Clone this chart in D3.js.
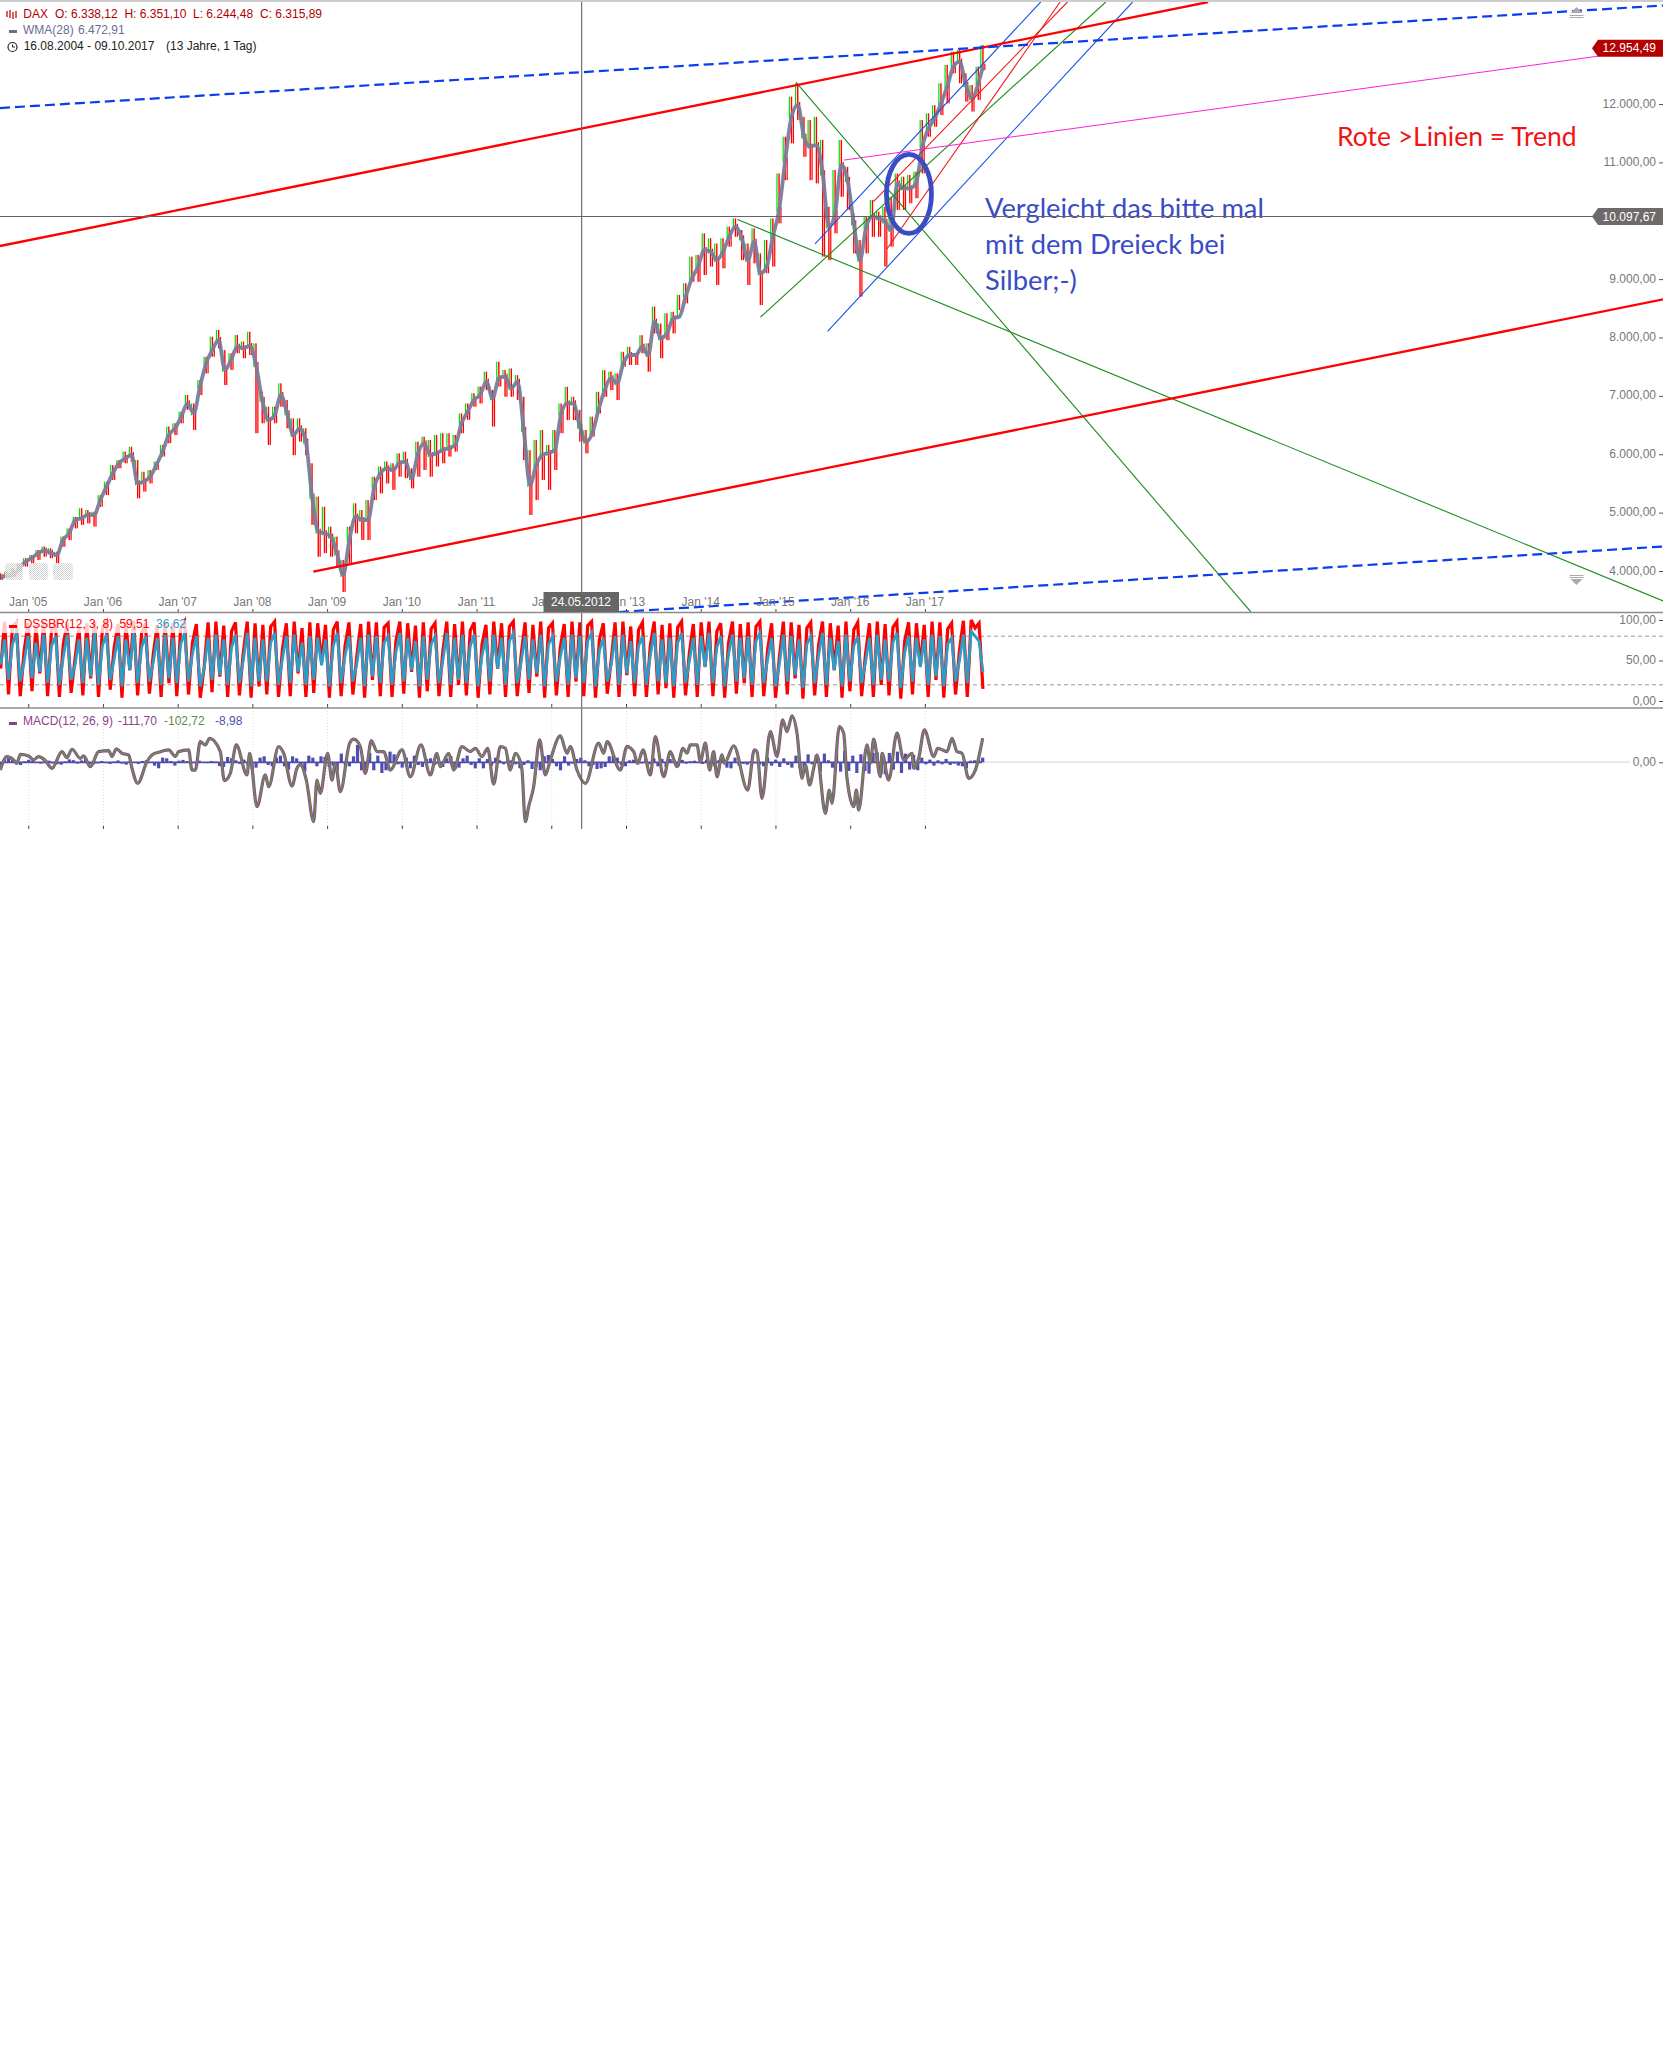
<!DOCTYPE html>
<html><head><meta charset="utf-8">
<script src="https://cdn.jsdelivr.net/npm/d3@7"></script>
<style>html,body{margin:0;padding:0;background:#fff}svg{display:block}text{font-family:"Liberation Sans",Arial,sans-serif;font-size:12px}</style>
</head><body><div id="chart"></div>
<script>
// ---- data ----
const startYear = 2004.625, lastYear = 2017.77;
const wmaValues = [3892,3915,3932,4046,4160,4223,4303,4349,4314,4274,4531,4646,4874,4903,4960,4960,5217,5445,5673,5845,5930,5987,5502,5531,5616,5816,6045,6330,6444,6644,6872,6701,7158,7558,7786,7957,7444,7615,7843,7815,7855,7529,6930,6587,6673,7015,6701,6330,6444,6216,5274,4674,4646,4589,4303,3932,4531,4931,4874,4874,5445,5673,5759,5730,5845,5873,5588,6016,6187,5987,6016,6073,6102,6159,6530,6730,6930,7015,7244,6958,7301,7329,7129,7243,6415,5473,5816,5987,6021,6072,6701,6872,6872,6472,6215,6358,6758,7100,7300,7215,7557,7700,7700,7843,7700,8271,7985,8071,8328,8356,8699,9013,9213,9498,9470,9327,9470,9727,9898,9698,9327,9641,9099,9213,9727,10184,11040,11783,11983,11440,11269,11297,10812,9898,10127,10955,10698,9955,9327,9898,10070,10041,9984,9841,10641,10555,10555,10641,11269,11583,11754,12011,12297,12639,12725,12325,12097,12354,12640];
const highValues = [3960,3990,4050,4130,4220,4275,4360,4420,4390,4330,4590,4730,4930,5075,5045,5015,5300,5530,5815,5900,6045,6130,5900,5700,5730,5875,6160,6475,6530,6730,7015,6870,7270,7670,8015,8130,7785,7730,8045,7930,8100,7900,7070,6815,6815,7215,6930,6615,6615,6445,5845,5275,5100,4760,4590,4190,4760,5160,5045,5215,5615,5790,5875,5845,6015,6045,5760,6215,6300,6245,6330,6360,6360,6330,6700,6870,7045,7160,7415,7100,7585,7445,7470,7355,6985,6070,6245,6415,6160,6415,6870,7155,6985,6760,6415,6645,7070,7440,7415,7385,7755,7840,7730,8040,7900,8530,8240,8415,8440,8730,8930,9385,9415,9785,9700,9610,9700,9900,10040,9840,9610,9870,9440,9670,10040,10810,11440,12125,12355,11780,11725,11780,11385,10240,10870,11385,10925,10125,9670,10070,10355,10155,10240,10410,10810,10755,10785,10840,11725,11840,11980,12355,12670,12895,12925,12525,12325,12640,13010];
const lowValues = [3850,3875,3900,3990,4075,4130,4190,4245,4220,4130,4415,4530,4730,4790,4815,4760,5100,5300,5560,5760,5845,5875,5245,5360,5500,5730,5960,6190,6330,6530,6760,6415,7015,7385,7670,7815,7185,7445,7730,7645,7700,6360,6530,6160,6530,6815,6445,5985,6215,5985,4790,4245,4305,4245,4075,3640,4130,4645,4530,4530,5215,5330,5500,5390,5615,5590,5415,5615,5730,5615,5790,5845,5960,6045,6360,6590,6815,6870,7100,6475,7160,6985,6985,6930,5900,4960,5215,5560,5390,5730,6360,6585,6585,6215,6015,6300,6700,6985,7100,6930,7500,7530,7530,7730,7415,8070,7645,7955,8070,8470,8585,8955,8955,9070,9215,8900,9185,9555,9725,9325,8900,9270,8555,9100,9215,9955,10695,11325,11725,11095,10695,10640,9385,9325,9785,10410,10185,9440,8700,9440,9725,9725,9215,9555,10185,10185,10300,10385,10810,11440,11610,11810,12010,12525,12355,12040,11870,12070,12580];
const dssRed = [40,98,8,92,97,6,62,96,12,94,34,98,6,88,95,5,70,97,10,52,92,7,96,28,98,5,90,97,14,66,95,4,97,38,99,7,84,96,9,58,94,5,98,22,96,6,90,98,8,72,95,4,42,97,11,98,30,93,5,86,97,7,60,98,4,96,18,94,8,92,98,5,64,96,6,98,34,90,5,97,10,96,48,94,4,88,98,6,68,97,8,55,95,4,98,26,97,6,91,96,5,74,98,9,96,36,93,4,97,12,89,96,6,62,98,5,95,20,98,7,87,97,4,70,94,8,98,40,96,5,92,98,6,57,97,10,94,30,98,4,90,96,7,66,95,5,98,24,97,6,93,98,4,76,96,9,50,97,5,98,32,92,6,88,97,5,68,98,8,94,16,96,4,91,98,7,60,95,5,97,42,98,6,86,96,4,72,98,9,95,22,97,5,92,98,6,64,96,4,55,98,8,97,28,94,3,90,97,7,69,98,5,96,38,93,4,98,12,88,97,6,58,96,5,98,20,95,7,91,98,3,74,97,8,96,44,94,5,98,26,97,4,89,96,8,62,99,5,100,90,96,15];
const dssBlue = [45,76,26,70,84,24,48,80,28,72,36,82,22,68,80,20,54,82,26,44,76,22,78,30,84,20,68,82,26,52,80,18,76,38,86,22,66,80,24,48,78,20,82,28,78,22,70,84,24,58,80,18,40,78,26,82,32,76,20,66,82,22,50,84,18,78,24,76,24,72,84,20,52,80,22,82,36,72,20,80,26,78,44,76,18,68,84,22,56,80,24,46,78,18,82,30,80,22,72,80,20,60,84,24,78,38,74,18,80,26,70,80,22,50,84,20,78,26,82,22,68,82,18,56,78,24,82,40,78,20,74,84,22,48,80,26,76,34,82,18,70,80,24,54,78,20,82,28,80,22,74,84,18,62,78,24,44,80,20,82,34,74,22,68,80,20,56,84,24,76,22,78,18,72,84,22,50,78,20,80,42,84,22,66,80,18,58,82,24,78,28,80,20,74,84,22,52,78,18,46,82,24,80,32,76,16,70,80,22,56,84,20,78,38,74,18,82,24,68,80,22,48,78,20,82,26,76,24,72,84,16,60,80,24,78,42,76,20,82,30,80,18,70,78,24,50,82,22,86,80,74,36];
const macdSession = [0,20,40,50,60,85,100,115,135,155,185,200,215,240,250,270,295,325,335,348,365,385,395,412,440,455,475,505,525,535,565,575,585,600,615,628,660,672,690,708,740,748,770,795,805,835,850,875,890,900,918,940,950,960,982,995,1005,1020,1048,1060,1080,1095,1113,1130,1150,1170,1205,1230,1262,1290,1310,1320,1345,1360,1385,1410,1425,1445,1462,1480,1500,1515,1530,1545,1560,1565,1575,1585,1600,1618,1635,1650,1680,1700,1710,1730,1755,1795,1810,1820,1860,1880,1900,1912,1928,1950,1965,1990,2010,2030,2048,2060,2070,2090,2100,2115,2128,2140,2150,2165,2172,2200,2242,2262,2270,2285,2310,2330,2347,2360,2375,2390,2405,2415,2428,2440,2450,2475,2487,2495,2517,2530,2540,2560,2568,2575,2600,2610,2620,2640,2645,2665,2690,2710,2735,2740,2755,2772,2800,2812,2840,2855,2870,2885,2905,2925,2947];
const macdValues = [-58,43,18,-8,60,48,18,43,13,-45,80,35,98,30,48,-33,80,88,43,100,68,55,-45,-158,5,55,75,93,43,80,93,-58,-58,155,130,180,80,-138,-83,130,-95,68,-333,-95,-183,118,68,-178,-45,-20,-133,-445,-133,-233,68,-133,-8,-220,143,173,118,-83,163,80,80,-58,93,-108,130,-95,68,-33,68,-58,118,80,105,43,105,-163,118,105,-58,68,5,-58,-445,-333,-183,168,-95,18,198,68,118,-58,-158,143,68,155,-58,118,80,-8,93,-95,193,-108,80,-33,105,68,130,130,5,143,-58,80,-108,55,-8,123,-208,93,80,-270,230,43,318,230,348,218,-120,-20,-170,-45,55,-383,-208,-308,268,218,-120,-333,-208,-358,130,-8,173,-108,68,-133,218,18,68,-45,30,243,43,105,80,180,80,68,-120,-58,180];
const macdHist = [-20,25,30,18,-12,-20,8,18,10,-5,-10,6,12,-8,-14,-18,6,22,16,-10,14,25,-12,-15,-8,10,-6,-12,5,14,-10,-18,8,-5,-12,10,16,-5,-25,-45,35,30,10,-25,12,18,8,-6,-8,12,-5,-6,10,5,-28,-35,40,30,15,-12,20,-25,-50,-40,35,45,-20,-30,35,50,-30,-55,45,30,-25,-70,50,35,-30,45,40,-35,-25,-60,65,-25,-30,45,130,-60,-55,70,-60,50,-80,-60,80,60,-15,-40,35,-45,50,-20,-35,25,30,-20,-12,-35,30,45,-50,-40,30,50,-20,-45,30,-45,25,-25,35,15,-15,20,15,-15,-45,-20,15,-50,-30,-60,45,55,25,-30,-60,45,-25,-10,25,35,15,-30,-20,-50,-45,-35,45,50,35,-20,-30,15,20,-15,-8,25,-15,30,-30,25,-35,25,15,-30,18,-10,8,12,-6,-12,20,-15,-30,15,35,-40,-45,35,-25,-12,-18,8,-8,-18,-30,35,-25,20,-35,30,-20,-40,50,-45,-55,60,-15,55,-70,65,15,-40,80,-70,85,-65,50,-80,60,-65,-85,70,75,-85,-90,70,-55,80,-80,65,-55,55,-60,35,-15,20,-25,15,-15,25,-20,-10,-25,-30,-45,12,15,20,35];
const yearLabels = [2005,2006,2007,2008,2009,2010,2011,2012,2013,2014,2015,2016,2017];
const priceTicks = [12000,11000,9000,8000,7000,6000,5000,4000];
const dssTicks = [100,50,0];
const trendYear0 = { red:[2004.616,2008.809], dash:[2004.616,2012.900], magenta:[2015.911], green:[2015.269,2014.486,2014.794], blue:[2015.523,2015.691], thinRed:[2016.305,2016.484] };
const trendVal0  = { red:[9567,3988], dash:[11931,3298], magenta:[11040], green:[12371,10021,8351], blue:[9602,8104], thinRed:[10326,9516] };
const trendYear1 = { red:[2020.783,2026.872], dash:[2026.872,2026.872], magenta:[2026.016], green:[2021.356,2026.872,2019.414], blue:[2018.543,2019.773], thinRed:[2018.901,2018.802] };
const trendVal1  = { red:[13747,8654], dash:[13687,4420], magenta:[12822], green:[3298,3486,13747], blue:[13747,13747], thinRed:[13747,13747] };
const ellipseCentre = {year:2016.78, value:10460};

// ---- scales ----
const W = 1663, H = 2048;
const x = d3.scaleLinear().domain([2005,2017]).range([28.7,925.4]);
const y = d3.scaleLinear().domain([4000,12000]).range([571,104]);
const yD = d3.scaleLinear().domain([0,100]).range([701,620]);
const yM = d3.scaleLinear().domain([-500,500]).range([829,695.6]);
const monthYear = i => i < wmaValues.length-1 ? startYear + i/12 : lastYear;
const sessionYear = s => 2004.62 + s*0.004461;

const svg = d3.select('#chart').append('svg').attr('width',W).attr('height',H).attr('viewBox',`0 0 ${W} ${H}`);
const defs = svg.append('defs');
defs.append('clipPath').attr('id','mainClip').append('rect').attr('x',0).attr('y',2).attr('width',W).attr('height',610);
const pat = defs.append('pattern').attr('id','dots').attr('width',2).attr('height',2).attr('patternUnits','userSpaceOnUse');
pat.append('rect').attr('width',2).attr('height',2).attr('fill','#fff');
pat.append('rect').attr('width',1).attr('height',1).attr('fill','#c8c8c8');
pat.append('rect').attr('x',1).attr('y',1).attr('width',1).attr('height',1).attr('fill','#c8c8c8');

svg.append('rect').attr('width',W).attr('height',H).attr('fill','#fff');
svg.append('line').attr('x1',0).attr('x2',W).attr('y1',1).attr('y2',1).attr('stroke','#bbb').attr('stroke-width',1.5);

// ---- price panel ----
const main = svg.append('g').attr('clip-path','url(#mainClip)');
const barIdx = d3.range(highValues.length);
// green wick upper half, red full wick, red lower half: three slim bars per month
main.append('g').selectAll('rect').data(barIdx).join('rect')
  .attr('x',i=>x(monthYear(i))-2.7).attr('width',1.2)
  .attr('y',i=>y(highValues[i])).attr('height',i=>y(wmaValues[i])-y(highValues[i])+2).attr('fill','#00dd00');
main.append('g').selectAll('rect').data(barIdx).join('rect')
  .attr('x',i=>x(monthYear(i))-.7).attr('width',1.4)
  .attr('y',i=>y(highValues[i])).attr('height',i=>y(lowValues[i])-y(highValues[i])).attr('fill','#ff0000');
main.append('g').selectAll('rect').data(barIdx).join('rect')
  .attr('x',i=>x(monthYear(i))+1.3).attr('width',1.2)
  .attr('y',i=>y(wmaValues[i])-3).attr('height',i=>y(lowValues[i])-y(wmaValues[i])+3).attr('fill','#ff0000');
main.append('path').attr('d',d3.line().curve(d3.curveMonotoneX).x((d,i)=>x(monthYear(i))).y(d=>y(d))(wmaValues))
  .attr('fill','none').attr('stroke','#7b7b9c').attr('stroke-width',3.8).attr('stroke-linejoin','round').attr('opacity',.95);

const drawTrends = (key,color,width,dash) => trendYear0[key].forEach((yr,i)=>{
  main.append('line').attr('x1',x(yr)).attr('y1',y(trendVal0[key][i]))
    .attr('x2',x(trendYear1[key][i])).attr('y2',y(trendVal1[key][i]))
    .attr('stroke',color).attr('stroke-width',width).attr('stroke-dasharray',dash||null);
});
drawTrends('green','#1c8c1c',1.1);
drawTrends('blue','#1a50e8',1.1);
drawTrends('thinRed','#f01818',1.1);
drawTrends('magenta','#ff20d8',1);
drawTrends('red','#ff0000',2.3);
drawTrends('dash','#0a3cf0',2.2,'10,5');
main.append('ellipse').attr('cx',x(ellipseCentre.year)).attr('cy',y(ellipseCentre.value)).attr('rx',22.5).attr('ry',39.5)
  .attr('fill','none').attr('stroke','#3a4cc4').attr('stroke-width',4.8);

// annotations
const note = (t,px,py,c,fs) => svg.append('text').attr('x',px).attr('y',py).attr('fill',c)
  .style('font-family','Lato,"Open Sans",sans-serif').style('font-size',fs+'px').text(t);
note('Vergleicht das bitte mal',985,218,'#3a4cc4',27.3);
note('mit dem Dreieck bei',985,254,'#3a4cc4',27.3);
note('Silber;-)',985,290,'#3a4cc4',27.3);
note('Rote >Linien = Trend',1337,146,'#f01414',26.5);

// faint icon boxes
[[5,18],[29,19],[53,20]].forEach(b=>svg.append('rect').attr('x',b[0]).attr('y',563).attr('width',b[1]).attr('height',17).attr('rx',3).attr('fill','url(#dots)').attr('opacity',.8));

// x axis
const tickColor='#777';
const xAxisMain = d3.axisBottom(x).tickValues(yearLabels).tickSize(0).tickFormat(d=>"Jan '"+String(d).slice(2));
const gx = svg.append('g').attr('transform','translate(-1,594)').call(xAxisMain);
gx.select('.domain').remove();
gx.selectAll('text').attr('fill',tickColor).style('font-size','12px').attr('dy','0.0em').attr('y',12);
[[609,612],[704,708],[825,829]].forEach(r=>svg.append('g').selectAll('line').data(yearLabels).join('line')
  .attr('x1',d=>x(d)).attr('x2',d=>x(d)).attr('y1',r[0]).attr('y2',r[1]).attr('stroke','#444').attr('stroke-width',1));

// y axes
const yAxisLabel = (g,scale,ticks,fmt) => { ticks.forEach(v=>{
  g.append('text').attr('x',1656).attr('y',scale(v)+3.5).attr('text-anchor','end').attr('fill',tickColor).text(fmt(v));
  g.append('line').attr('x1',1659).attr('x2',1663).attr('y1',scale(v)+.5).attr('y2',scale(v)+.5).attr('stroke','#555');
});};
const de = d3.formatLocale({decimal:',',thousands:'.',grouping:[3],currency:['','']}).format(',.2f');
yAxisLabel(svg.append('g'),y,priceTicks,de);
yAxisLabel(svg.append('g'),yD,dssTicks,de);
yAxisLabel(svg.append('g'),yM,[0],de);

// ---- DSS panel ----
const dss = svg.append('g');
[80,20].forEach(v=>dss.append('line').attr('x1',0).attr('x2',1663).attr('y1',yD(v)).attr('y2',yD(v)).attr('stroke','#999').attr('stroke-dasharray','4,3'));
const dssYear = (i,n) => 2004.625 + i*(lastYear-2004.625)/(n-1);
dss.append('path').attr('d',d3.line().x((d,i)=>x(dssYear(i,dssRed.length))).y(d=>yD(d))(dssRed)).attr('fill','none').attr('stroke','#ff0000').attr('stroke-width',3.2);
dss.append('path').attr('d',d3.line().x((d,i)=>x(dssYear(i,dssBlue.length))).y(d=>yD(d))(dssBlue)).attr('fill','none').attr('stroke','#2f9cc6').attr('stroke-width',2.8);
dss.append('rect').attr('x',0).attr('y',620).attr('width',188).attr('height',13).attr('fill','#fff').attr('opacity',.78);

// ---- MACD panel ----
const macd = svg.append('g');
macd.append('g').selectAll('line').data(yearLabels).join('line').attr('x1',d=>x(d)).attr('x2',d=>x(d)).attr('y1',708).attr('y2',826)
  .attr('stroke','#ddd').attr('stroke-dasharray','1,2');
macd.append('line').attr('x1',982).attr('x2',1630).attr('y1',yM(0)).attr('y2',yM(0)).attr('stroke','#ecdcec').attr('stroke-width',1.5);
macd.append('line').attr('x1',0).attr('x2',982).attr('y1',yM(0)).attr('y2',yM(0)).attr('stroke','#4e4eae').attr('stroke-width',1.8);
const histYear = i => sessionYear(i*2947/(macdHist.length-1));
macd.append('g').selectAll('rect').data(macdHist).join('rect')
  .attr('x',(d,i)=>x(histYear(i))-1.6).attr('width',3.2)
  .attr('y',d=>Math.min(yM(d),yM(0))).attr('height',d=>Math.abs(yM(d)-yM(0))).attr('fill','#4e4eae');
const macdPath = d3.line().curve(d3.curveMonotoneX).x((d,i)=>x(sessionYear(macdSession[i]))).y(d=>yM(d))(macdValues);
macd.append('path').attr('d',macdPath).attr('fill','none').attr('stroke','#9a3f96').attr('stroke-width',3.2);
macd.append('path').attr('d',macdPath).attr('fill','none').attr('stroke','#62904f').attr('stroke-width',1.8);

// crosshair
const crossYear = 2012.4, crossLinePrice = 10072;
svg.append('line').attr('x1',x(crossYear)).attr('x2',x(crossYear)).attr('y1',2).attr('y2',829).attr('stroke','#6a5f6a').attr('stroke-width',1.1);
svg.append('line').attr('x1',0).attr('x2',1600).attr('y1',y(crossLinePrice)).attr('y2',y(crossLinePrice)).attr('stroke','#6a5f6a').attr('stroke-width',1.1);

// panel dividers
[612.5,708].forEach(v=>svg.append('line').attr('x1',0).attr('x2',W).attr('y1',v).attr('y2',v).attr('stroke','#8c8c8c').attr('stroke-width',1.3));

// price tags
const tag = (pos,val,fill)=>{
  const py=y(pos), g=svg.append('g');
  g.append('path').attr('d',d3.line()([[1592,py],[1598,py-8.5],[1663,py-8.5],[1663,py+8.5],[1598,py+8.5]])+'Z').attr('fill',fill);
  g.append('text').attr('x',1656).attr('y',py+4).attr('text-anchor','end').attr('fill','#fff').text(de(val));
};
tag(12954.49,12954.49,'#b40000');
tag(crossLinePrice,10097.67,'#6e6a6a');
// date tag
svg.append('rect').attr('x',543.5).attr('y',592).attr('width',75.5).attr('height',20).attr('fill','#666');
svg.append('text').attr('x',581).attr('y',606).attr('text-anchor','middle').attr('fill','#fff').text('24.05.2012');

// scroll arrows
const arrow=(px,py,dir)=>{const g=svg.append('g').attr('fill','#aaa').attr('stroke','none');
  g.append('path').attr('d',d3.line()([[px-6,py+dir*2],[px+6,py+dir*2],[px,py+dir*(-4)]])+'Z');
  g.append('rect').attr('x',px-7).attr('y',py+dir*4).attr('width',14).attr('height',1);
  g.append('rect').attr('x',px-7).attr('y',py+dir*6).attr('width',14).attr('height',1);};
arrow(1576.5,11,1);
arrow(1576.5,581,-1);

// legends
const t=(s,px,py,c)=>svg.append('text').attr('x',px).attr('y',py).attr('fill',c).text(s);
const dark='#b40000';
t('DAX',23.3,18,dark); t('O: 6.338,12',55,18,dark); t('H: 6.351,10',124.4,18,dark); t('L: 6.244,48',193,18,dark); t('C: 6.315,89',260,18,dark);
t('WMA(28)',23,34,'#6d6d90'); t('6.472,91',78,34,'#6d6d90');
t('16.08.2004 - 09.10.2017',23.7,50,'#222'); t('(13 Jahre, 1 Tag)',166,50,'#222');
[[7,11,17],[10,10,18],[13,12,19],[16,11,18]].forEach(a=>svg.append('line').attr('x1',a[0]).attr('x2',a[0]).attr('y1',a[1]).attr('y2',a[2]).attr('stroke','#c02020').attr('stroke-width',1.4));
svg.append('rect').attr('x',9).attr('y',30).attr('width',8).attr('height',3).attr('fill','#6d6d90');
svg.append('circle').attr('cx',12.5).attr('cy',47).attr('r',4.5).attr('fill','none').attr('stroke','#222').attr('stroke-width',1.2);
svg.append('path').attr('d','M12.5 44.5V47H15').attr('fill','none').attr('stroke','#222');
t('DSSBR(12, 3, 8)',23.7,628,'#ff0000'); t('59,51',119.4,628,'#ff0000'); t('36,62',156,628,'#2f9cc6');
svg.append('rect').attr('x',9).attr('y',625).attr('width',8).attr('height',3).attr('fill','#ff0000');
t('MACD(12, 26, 9)',23,725,'#8b3f8b'); t('-111,70',118,725,'#8b3f8b'); t('-102,72',164,725,'#5f8a50'); t('-8,98',215,725,'#5050b0');
svg.append('rect').attr('x',9).attr('y',722).attr('width',8).attr('height',3).attr('fill','#8b3f8b');
</script></body></html>
